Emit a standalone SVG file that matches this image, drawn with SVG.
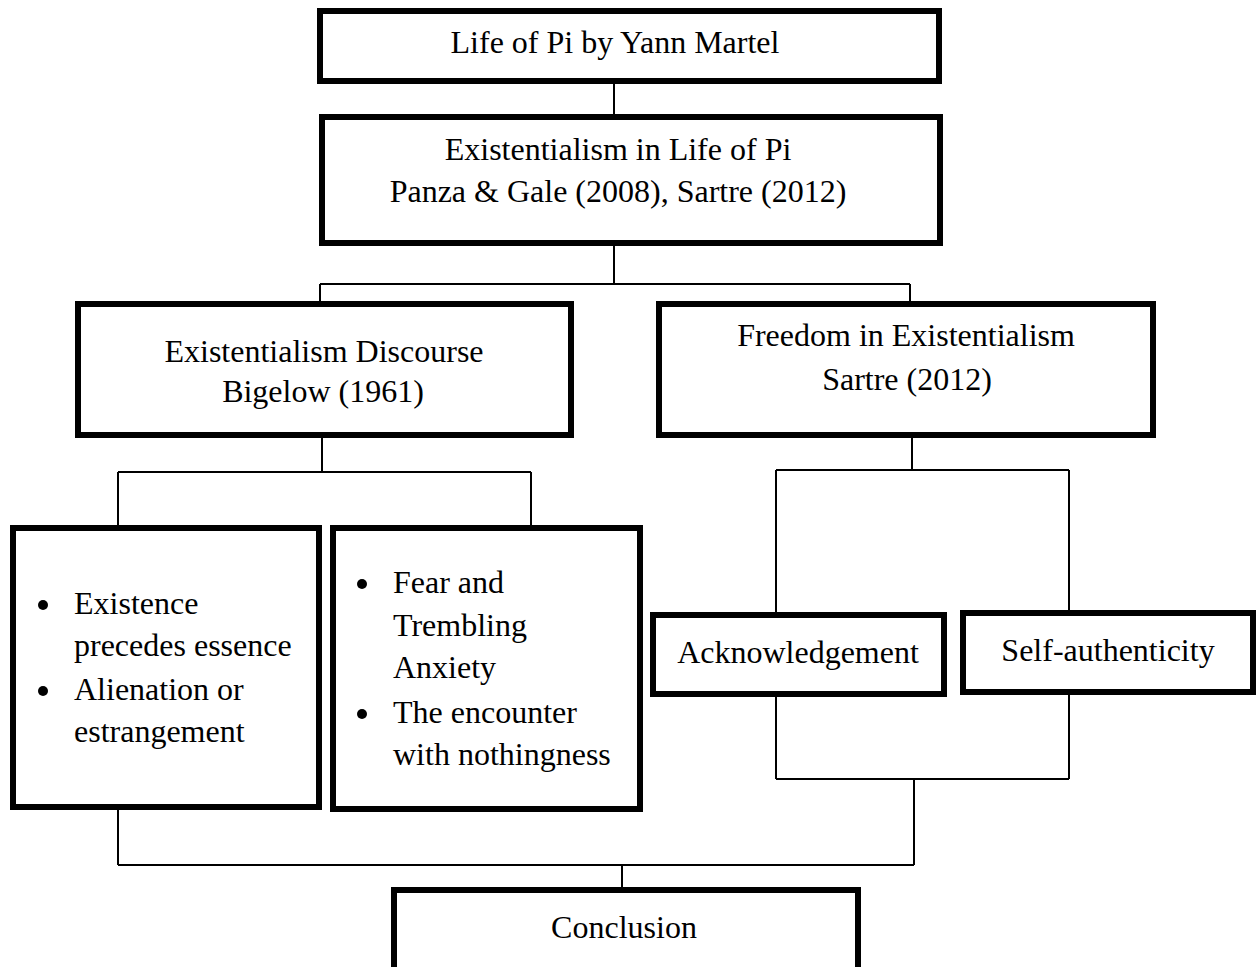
<svg xmlns="http://www.w3.org/2000/svg" width="1259" height="967" viewBox="0 0 1259 967">
<style>
.box{fill:#fff;stroke:#000;stroke-width:6}
.c{fill:none;stroke:#000;stroke-width:2}
text{font-family:"Liberation Serif","Times New Roman",serif;font-size:32px;fill:#000}
.m{text-anchor:middle}
</style>
<rect width="1259" height="967" fill="#fff"/>
<g id="connectors">
<path class="c" d="M614 84V114M614 246V284M320 284H910M320 284V301M910 284V301"/>
<path class="c" d="M322 438V472M118 472H531M118 472V525M531 472V525"/>
<path class="c" d="M912 438V470M776 470H1069M776 470V612M1069 470V610"/>
<path class="c" d="M776 697V779M1069 695V779M776 779H1069M914 779V865"/>
<path class="c" d="M118 810V865M118 865H914M622 865V887"/>
</g>
<g id="n1"><rect class="box" x="320" y="11" width="619" height="70"/><text class="m" x="615" y="53">Life of Pi by Yann Martel</text></g>
<g id="n2"><rect class="box" x="322" y="117" width="618" height="126"/><text class="m" x="618" y="160">Existentialism in Life of Pi</text><text class="m" x="618" y="202">Panza &amp; Gale (2008), Sartre (2012)</text></g>
<g id="n3"><rect class="box" x="78" y="304" width="493" height="131"/><text class="m" x="324" y="362">Existentialism Discourse</text><text class="m" x="323" y="402">Bigelow (1961)</text></g>
<g id="n4"><rect class="box" x="659" y="304" width="494" height="131"/><text class="m" x="906" y="346">Freedom in Existentialism</text><text class="m" x="907" y="390">Sartre (2012)</text></g>
<g id="n5"><rect class="box" x="13" y="528" width="306" height="279"/>
<circle cx="43" cy="605" r="5"/><circle cx="43" cy="691" r="5"/>
<text x="74" y="614">Existence</text><text x="74" y="656">precedes essence</text><text x="74" y="700">Alienation or</text><text x="74" y="742">estrangement</text></g>
<g id="n6"><rect class="box" x="333" y="528" width="307" height="281"/>
<circle cx="362" cy="584" r="5"/><circle cx="362" cy="714" r="5"/>
<text x="393" y="593">Fear and</text><text x="393" y="636">Trembling</text><text x="393" y="678">Anxiety</text><text x="393" y="723">The encounter</text><text x="393" y="765">with nothingness</text></g>
<g id="n7"><rect class="box" x="653" y="615" width="291" height="79"/><text class="m" x="798" y="663">Acknowledgement</text></g>
<g id="n8"><rect class="box" x="963" y="613" width="290" height="79"/><text class="m" x="1108" y="661">Self-authenticity</text></g>
<g id="n9"><rect class="box" x="394" y="890" width="464" height="82"/><text class="m" x="624" y="938">Conclusion</text></g>
</svg>
